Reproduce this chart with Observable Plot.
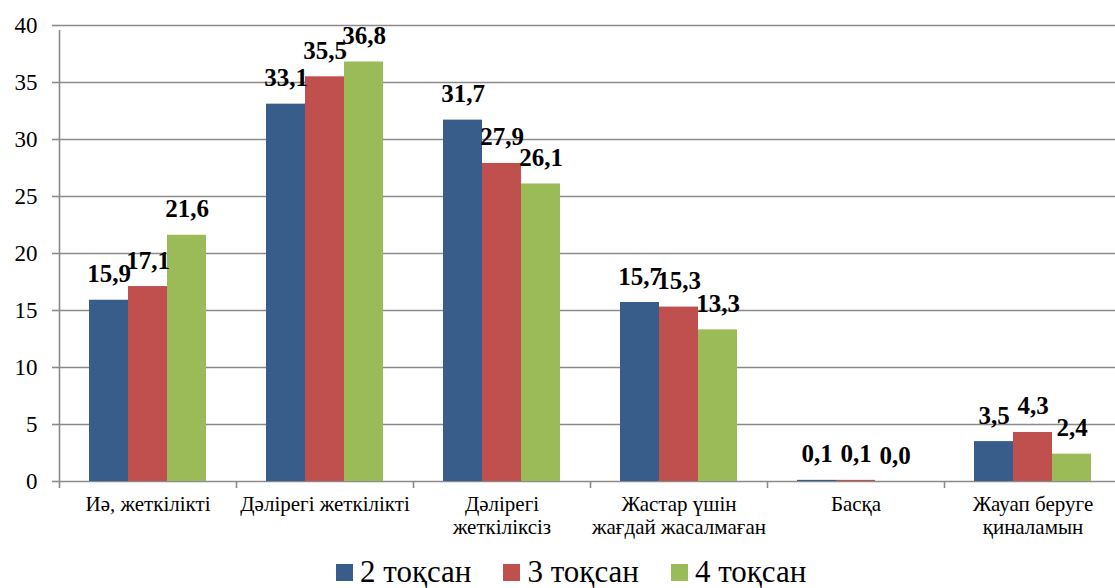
<!DOCTYPE html>
<html><head><meta charset="utf-8">
<script src="https://cdn.jsdelivr.net/npm/d3@7"></script>
<script src="https://cdn.jsdelivr.net/npm/@observablehq/plot@0.6"></script>
<style>
body{margin:0;background:#fff;font-family:"Liberation Serif",serif;}
#wrap{position:relative;width:1115px;height:588px;overflow:hidden;}
#legend{position:absolute;left:336px;top:555px;display:flex;align-items:center;font-size:31px;line-height:34px;color:#000;white-space:nowrap;}
.item{display:flex;align-items:center;margin-right:32px;}
.sw{width:17px;height:17px;margin-right:7px;}
</style>
</head><body>
<div id="wrap"><div id="chart"></div><div id="legend"></div></div>
<script>
const categories = ["Иә, жеткілікті","Дәлірегі жеткілікті","Дәлірегі жеткіліксіз","Жастар үшін жағдай жасалмаған","Басқа","Жауап беруге қиналамын"];
const categoryLabels = ["Иә, жеткілікті","Дәлірегі жеткілікті","Дәлірегі\nжеткіліксіз","Жастар үшін\nжағдай жасалмаған","Басқа","Жауап беруге\nқиналамын"];
const series = ["2 тоқсан","3 тоқсан","4 тоқсан"];
const q2 = [15.9,33.1,31.7,15.7,0.1,3.5];
const q3 = [17.1,35.5,27.9,15.3,0.1,4.3];
const q4 = [21.6,36.8,26.1,13.3,0.0,2.4];
const yTicks = [0,5,10,15,20,25,30,35,40];
const colors = ["#385D8A","#C0504D","#9BBB59"];

const seriesValues = [q2,q3,q4];
const data = categories.flatMap((c,i)=>seriesValues.map((vals,s)=>({category:c, series:series[s], value:vals[i]})));
const labelOf = new Map(categories.map((c,i)=>[c,categoryLabels[i]]));
const fmt = v => v.toFixed(1).replace(".", ",");
const gray = "#8a8a8a";
const serifFont = "Liberation Serif, serif";

const chart = Plot.plot({
  width:1115, height:552, marginTop:25, marginBottom:71, marginLeft:59, marginRight:0,
  style:{fontFamily:serifFont, background:"transparent", color:"#000"},
  fx:{domain:categories, range:[59,1121], padding:0, axis:null, label:null},
  x:{domain:series, paddingInner:0, paddingOuter:0.769, axis:null, label:null},
  y:{domain:[0,40], axis:null, label:null},
  color:{domain:series, range:colors},
  marks:[
    Plot.gridY(yTicks, {stroke:gray, strokeOpacity:1, strokeWidth:1.6}),
    Plot.axisY(yTicks, {label:null, tickSize:7, tickPadding:15, fontSize:23, fontFamily:serifFont, stroke:gray, strokeWidth:1.6, fill:"#000", tickFormat:d=>String(d)}),
    Plot.ruleX([categories[0]], {fx:d=>d, x:()=>series[0], dx:-49.5, y1:0, y2:40, insetBottom:-5, stroke:gray, strokeWidth:1.6}),
    Plot.ruleX(categories, {fx:d=>d, x:()=>series[0], dx:-49.5, y1:0, y2:0, insetBottom:-7, stroke:gray, strokeWidth:1.6}),
    Plot.barY(data, {fx:"category", x:"series", y:"value", fill:"series"}),
    Plot.text(data, {fx:"category", x:"series", y:"value", text:d=>fmt(d.value), dy:-26, fontSize:25, fontWeight:"bold", fontFamily:serifFont, fill:"#000"}),
    Plot.axisFx({anchor:"bottom", label:null, tickSize:0, tickPadding:13, fontSize:21, fontFamily:serifFont, lineHeight:1.1, fill:"#000", tickFormat:d=>labelOf.get(d)})
  ]
});
document.getElementById("chart").appendChild(chart);

const legend = document.getElementById("legend");
series.forEach((s,i)=>{
  const item = document.createElement("div"); item.className = "item";
  const sw = document.createElement("span"); sw.className = "sw"; sw.style.background = colors[i];
  const t = document.createElement("span"); t.textContent = s;
  item.appendChild(sw); item.appendChild(t); legend.appendChild(item);
});
</script></body></html>
